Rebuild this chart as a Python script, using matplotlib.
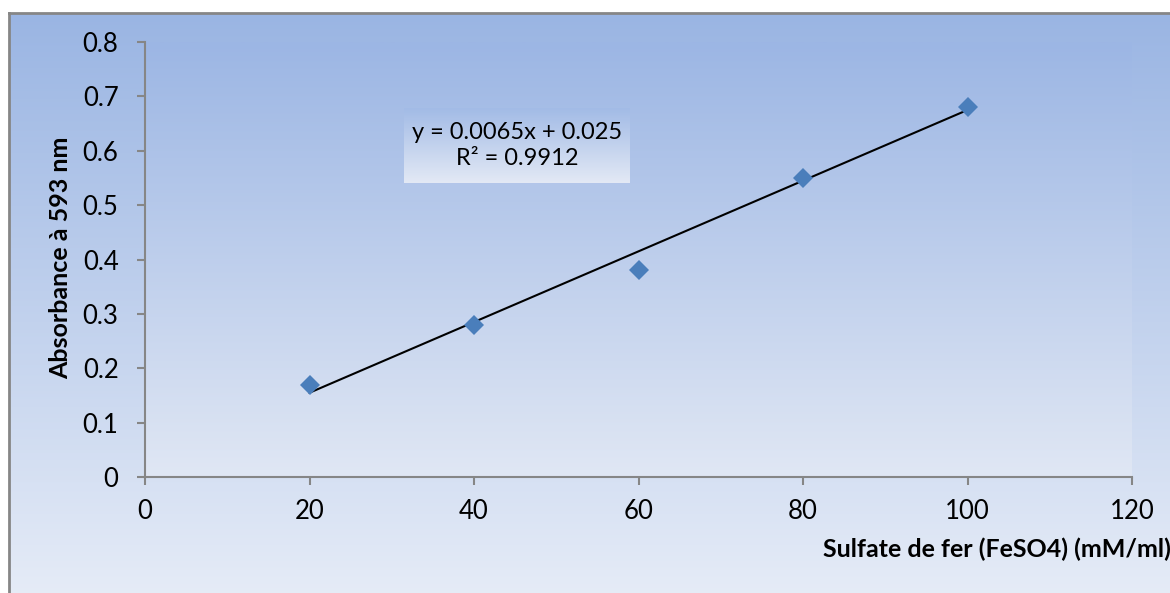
import numpy as np
import matplotlib
matplotlib.use("Agg")
import matplotlib.pyplot as plt
from matplotlib.colors import LinearSegmentedColormap

# Data
conc = [20, 40, 60, 80, 100]
absorb = [0.17, 0.28, 0.38, 0.55, 0.68]
slope = 0.0065
intercept = 0.025
x_ticks = [0, 20, 40, 60, 80, 100, 120]
y_ticks = [0, 0.1, 0.2, 0.3, 0.4, 0.5, 0.6, 0.7, 0.8]
y_ticklabels = ["0", "0.1", "0.2", "0.3", "0.4", "0.5", "0.6", "0.7", "0.8"]
eq_text = "y = 0.0065x + 0.025\nR² = 0.9912"
xlabel = "Sulfate de fer (FeSO4) (mM/ml)"
ylabel = "Absorbance à 593 nm"

plt.rcParams['font.family'] = ['Lato', 'DejaVu Sans']

W, H = 1170, 593
fig = plt.figure(figsize=(W / 100, H / 100), dpi=100)
fig.patch.set_facecolor("white")

def px(x0, y0, x1, y1):
    return [x0 / W, 1 - y1 / H, (x1 - x0) / W, (y1 - y0) / H]

grad = np.linspace(0, 1, 256).reshape(-1, 1)

# Chart area background with frame
bg = fig.add_axes(px(9, 13, 1180, 600))
cm_bg = LinearSegmentedColormap.from_list("bg", ["#9AB5E3", "#E6ECF7"])
bg.imshow(grad, aspect="auto", cmap=cm_bg, extent=(0, 1, 0, 1), origin="upper")
bg.set_xlim(0, 1); bg.set_ylim(0, 1)
bg.set_xticks([]); bg.set_yticks([])
for s in bg.spines.values():
    s.set_color("#868686"); s.set_linewidth(2)

# Main plot area
ax = fig.add_axes(px(145, 42, 1132, 477))
cm_pa = LinearSegmentedColormap.from_list("pa", ["#9CB6E4", "#E0E7F4"])
ax.imshow(grad, aspect="auto", cmap=cm_pa, extent=(0, 120, 0, 0.8), origin="upper", zorder=0)
ax.set_xlim(0, 120)
ax.set_ylim(0, 0.8)

xs = np.array([conc[0], conc[-1]])
ax.plot(xs, slope * xs + intercept, color="black", lw=1.5, zorder=3)
ax.plot(conc, absorb, linestyle="none", marker="D", markersize=10,
        color="#4A7EBB", markeredgewidth=0, zorder=4)

ax.set_xticks(x_ticks)
ax.set_yticks(y_ticks)
ax.set_yticklabels(y_ticklabels)
ax.tick_params(axis="both", direction="out", length=6, width=1.5, color="#868686",
               labelsize=18.5, labelcolor="black")
ax.tick_params(axis="x", pad=10)
ax.tick_params(axis="y", pad=13)
for s in ["top", "right"]:
    ax.spines[s].set_visible(False)
for s in ["left", "bottom"]:
    ax.spines[s].set_color("#868686")
    ax.spines[s].set_linewidth(1.5)

# Equation box
bx = fig.add_axes(px(404, 108, 630, 183))
cm_bx = LinearSegmentedColormap.from_list("bx", ["#A2BBE6", "#E3E9F5"])
bx.imshow(grad, aspect="auto", cmap=cm_bx, extent=(0, 1, 0, 1), origin="upper")
bx.set_xlim(0, 1); bx.set_ylim(0, 1)
bx.axis("off")
bx.text(0.5, 0.5, eq_text, ha="center", va="center", fontsize=17,
        linespacing=1.3, color="black")

# Axis labels
fig.text(61 / W, 1 - 258 / H, ylabel, rotation=90, ha="center", va="center",
         fontsize=18, fontweight="bold")
fig.text(1171 / W, 1 - 549 / H, xlabel, ha="right", va="center",
         fontsize=18, fontweight="bold")

fig.savefig("out.png", dpi=100)
